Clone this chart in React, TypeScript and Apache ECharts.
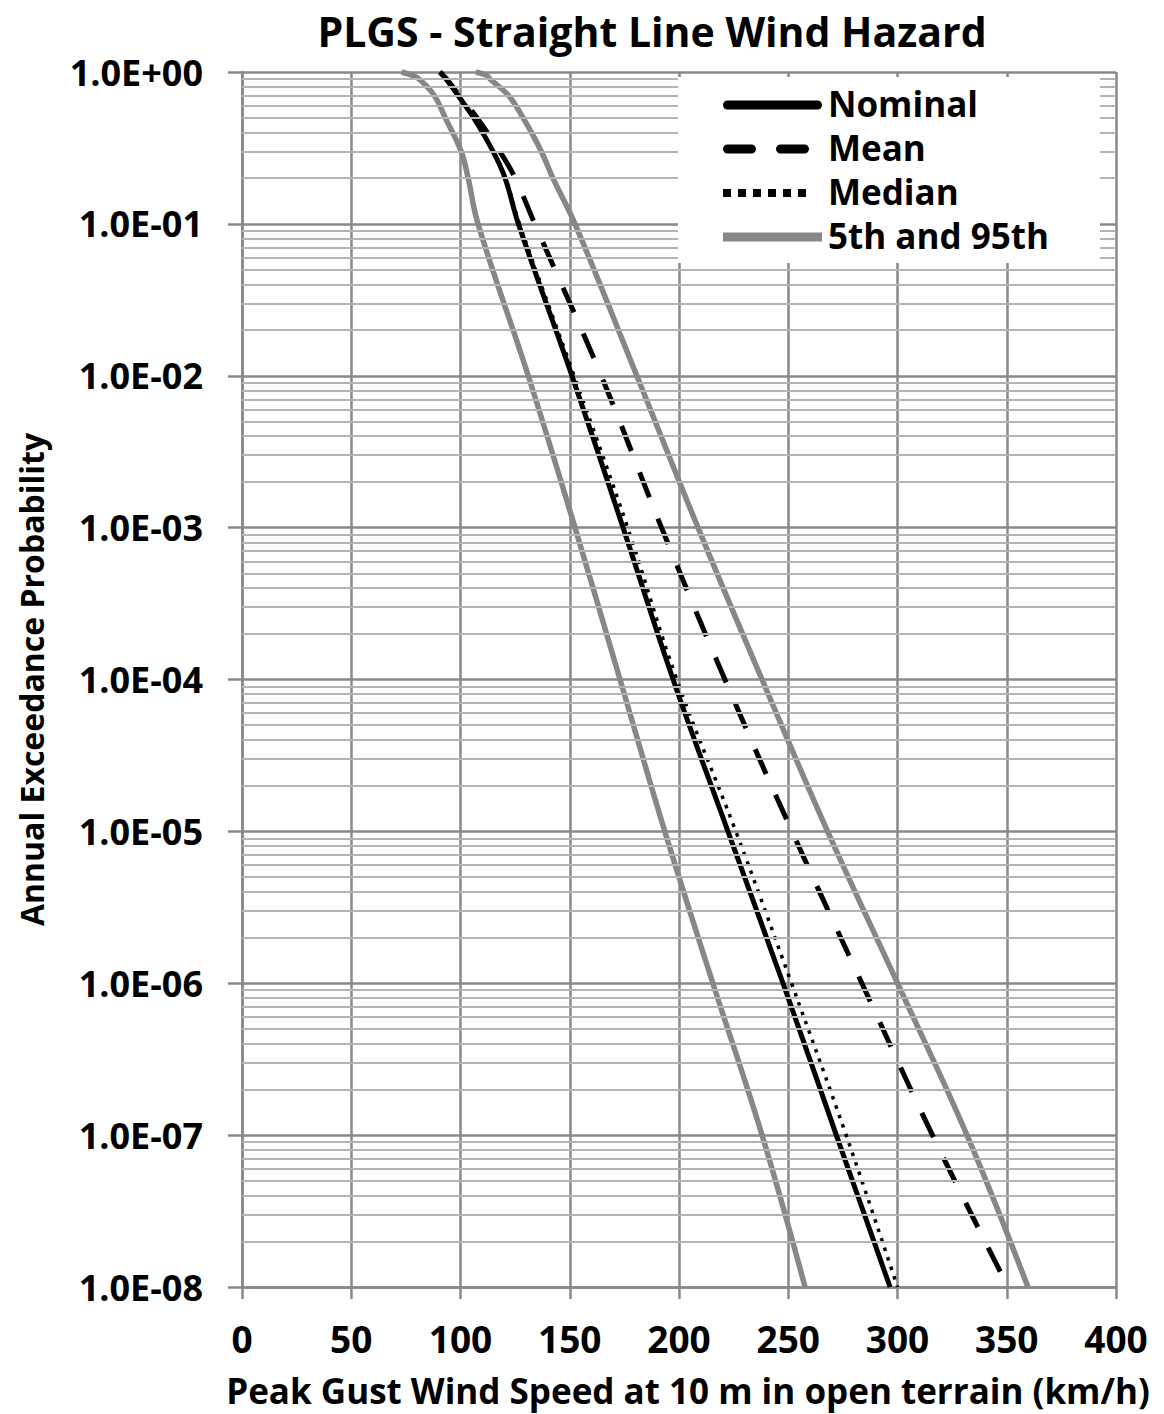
import React, { useEffect, useRef } from "react";
import * as echarts from "echarts";

const chartTitle = "PLGS - Straight Line Wind Hazard";
const xAxisTitle = "Peak Gust Wind Speed at 10 m in open terrain (km/h)";
const yAxisTitle = "Annual Exceedance Probability";

const probabilities = [1, 0.95, 0.9, 0.7, 0.5, 0.3, 0.2, 0.1, 1e-2, 1e-3, 1e-4, 1e-5, 1e-6, 1e-7, 1e-8];
// Peak gust wind speed (km/h) for each curve at those probabilities
const nominalSpeeds = [90.6, 92, 93.4, 98.9, 106, 114.9, 120.4, 126.5, 151, 174.4, 197.3, 222.4, 247.6, 272, 296.6];
const meanSpeeds = [90.6, 92, 93.6, 99.5, 107.5, 118, 125, 134, 164.4, 192, 221, 251.7, 283.7, 316, 350.6];
const medianSpeeds = [90.6, 92, 93.4, 98.9, 106, 115, 120.6, 127, 152, 176.5, 199, 226, 251.5, 276.5, 300];
const p5Speeds = [73, 78, 81, 88, 93, 100.3, 103.5, 108, 131, 152.4, 173, 193.5, 215.5, 238, 257.7];
const p95Speeds = [107, 112, 113.5, 122, 128.6, 137, 142.3, 152.4, 180.7, 208.7, 238, 268, 300, 331.8, 359.7];

const legendLabels = ["Nominal", "Mean", "Median", "5th and 95th"];
const minorMultipliers = [2, 3, 4, 5, 6, 7, 8, 9];
const decadeExponents = [-8, -7, -6, -5, -4, -3, -2, -1];

const FONT = "'Open Sans', 'Liberation Sans', sans-serif";
const WEIGHT = "bold";
const MAJOR = "#888888";
const MINOR = "#b3b3b3";
const GRAY = "#878787";

function toPairs(speeds: number[]) {
  return speeds.map((s, i) => [s, probabilities[i]]);
}

function expLabel(v: number) {
  const e = Math.round(Math.log10(v));
  const sign = e < 0 ? "-" : "+";
  return "1.0E" + sign + String(Math.abs(e)).padStart(2, "0");
}

export default function App() {
  const ref = useRef<HTMLDivElement>(null);
  useEffect(() => {
    if (!ref.current) return;
    const chart = echarts.init(ref.current, null, { renderer: "svg" });
    const minorLines: any[] = [];
    decadeExponents.forEach((e) =>
      minorMultipliers.forEach((m) => minorLines.push({ yAxis: m * Math.pow(10, e) }))
    );
    const lineBase = { type: "line", showSymbol: false, symbol: "none", smooth: 0.4, z: 3 };
    const rowsY = [105, 149, 193, 237];
    const option: any = {
      animation: false,
      backgroundColor: "#ffffff",
      grid: { left: 242, top: 72, width: 874, height: 1215, containLabel: false, outerBoundsMode: "none" },
      xAxis: {
        type: "value",
        min: 0,
        max: 400,
        interval: 50,
        name: xAxisTitle,
        nameLocation: "middle",
        nameGap: 86,
        nameTextStyle: { fontFamily: FONT, fontSize: 35, fontWeight: WEIGHT, color: "#000", padding: [0, 0, 0, 18] },
        axisLine: { show: true, lineStyle: { color: MAJOR, width: 2.5 } },
        axisTick: { show: true, length: 12, lineStyle: { color: MAJOR, width: 2.5 } },
        axisLabel: { margin: 33, fontFamily: FONT, fontSize: 37, fontWeight: WEIGHT, color: "#000" },
        splitLine: { show: true, lineStyle: { color: MAJOR, width: 2.5 } },
      },
      yAxis: {
        type: "log",
        logBase: 10,
        min: 1e-8,
        max: 1,
        name: yAxisTitle,
        nameLocation: "middle",
        nameGap: 195,
        nameRotate: 90,
        nameTextStyle: { fontFamily: FONT, fontSize: 32, fontWeight: WEIGHT, color: "#000" },
        axisLine: { show: true, lineStyle: { color: MAJOR, width: 2.5 } },
        axisTick: { show: true, length: 14, lineStyle: { color: MAJOR, width: 2.5 } },
        axisLabel: { margin: 39, fontFamily: FONT, fontSize: 36, fontWeight: WEIGHT, color: "#000", formatter: expLabel },
        splitLine: { show: true, lineStyle: { color: MAJOR, width: 2.5 } },
      },
      series: [
        {
          type: "line",
          name: "minor-grid",
          data: [],
          silent: true,
          z: 1,
          markLine: {
            silent: true,
            precision: 12,
            symbol: "none",
            label: { show: false },
            lineStyle: { color: MINOR, width: 2, type: "solid" },
            data: minorLines,
          },
        },
        { ...lineBase, name: "5th", data: toPairs(p5Speeds), lineStyle: { color: GRAY, width: 5.5 } },
        { ...lineBase, name: "95th", data: toPairs(p95Speeds), lineStyle: { color: GRAY, width: 5.5 } },
        { ...lineBase, name: "Median", data: toPairs(medianSpeeds), lineStyle: { color: "#000", width: 3.5, type: [3.5, 6.5] } },
        { ...lineBase, name: "Mean", data: toPairs(meanSpeeds), lineStyle: { color: "#000", width: 5, type: [27, 23] } },
        { ...lineBase, name: "Nominal", data: toPairs(nominalSpeeds), lineStyle: { color: "#000", width: 5 } },
      ],
      graphic: [
        {
          type: "text",
          x: 652,
          y: 10,
          z: 100,
          style: { text: chartTitle, fontFamily: FONT, fontSize: 41, fontWeight: WEIGHT, fill: "#000", textAlign: "center", textVerticalAlign: "top" },
        },
        { type: "rect", z: 100, shape: { x: 678, y: 77, width: 422, height: 186 }, style: { fill: "#fff" } },
        { type: "line", z: 101, shape: { x1: 727.5, y1: rowsY[0], x2: 817.5, y2: rowsY[0] }, style: { stroke: "#000", lineWidth: 9, lineCap: "round" } },
        { type: "line", z: 101, shape: { x1: 727.5, y1: rowsY[1], x2: 817.5, y2: rowsY[1] }, style: { stroke: "#000", lineWidth: 9, lineCap: "round", lineDash: [24, 29] } },
        { type: "line", z: 101, shape: { x1: 723, y1: rowsY[2], x2: 808, y2: rowsY[2] }, style: { stroke: "#000", lineWidth: 8, lineDash: [8, 7] } },
        { type: "line", z: 101, shape: { x1: 723, y1: rowsY[3], x2: 822, y2: rowsY[3] }, style: { stroke: GRAY, lineWidth: 9 } },
        ...legendLabels.map((t, i) => ({
          type: "text",
          z: 101,
          x: 828,
          y: rowsY[i] - 2,
          style: { text: t, fontFamily: FONT, fontSize: 35, fontWeight: WEIGHT, fill: "#000", textAlign: "left", textVerticalAlign: "middle" },
        })),
      ],
    };
    chart.setOption(option);
    return () => chart.dispose();
  }, []);
  return <div ref={ref} style={{ position: "fixed", left: 0, top: 0, width: 1164, height: 1414, background: "#fff" }} />;
}
